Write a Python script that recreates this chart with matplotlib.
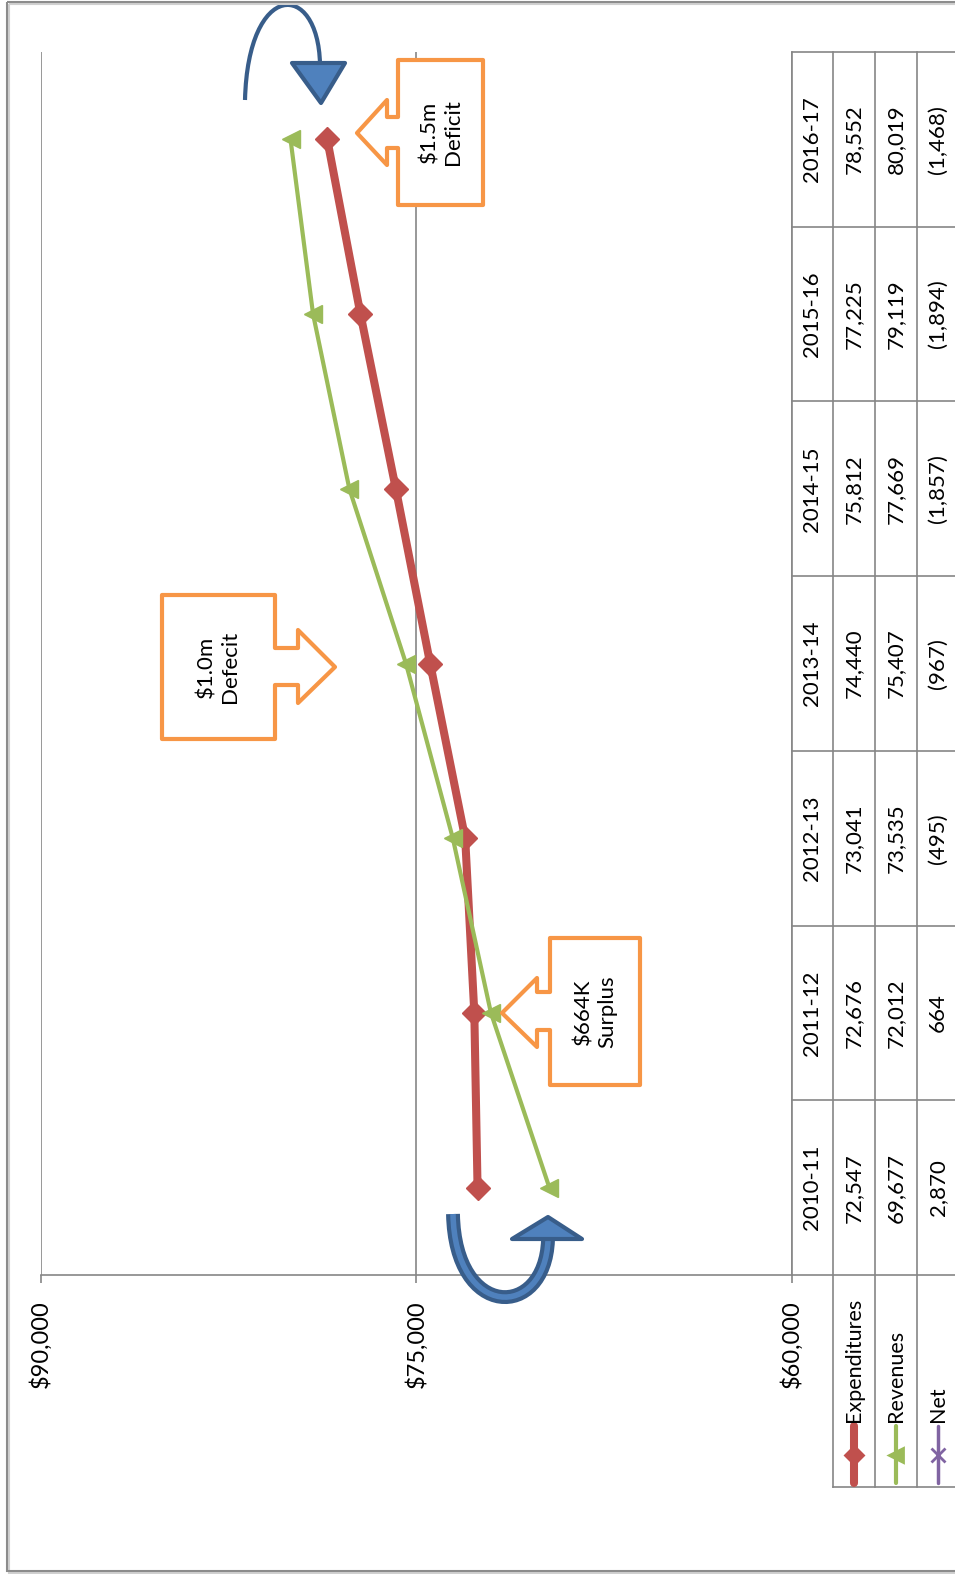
import numpy as np
import matplotlib.pyplot as plt
from matplotlib.patches import Polygon, PathPatch, Rectangle
from matplotlib.path import Path
from matplotlib.lines import Line2D
from matplotlib.transforms import Affine2D, blended_transform_factory

# data (thousands of dollars)
years = ["2010-11", "2011-12", "2012-13", "2013-14", "2014-15", "2015-16", "2016-17"]
expenditures = [72547, 72676, 73041, 74440, 75812, 77225, 78552]
revenues = [69677, 72012, 73535, 75407, 77669, 79119, 80019]
net = [2870, 664, -495, -967, -1857, -1894, -1468]
value_ticks = [90000, 75000, 60000]

RED, GREEN, PURPLE = "#C0504D", "#9BBB59", "#8064A2"
ORANGE, BLUE, DKBLUE = "#F79646", "#4F81BD", "#385D8A"
GRAY = "#868686"

W, H = 955, 1574
plt.rcParams['font.family'] = ['Lato', 'DejaVu Sans']
fig = plt.figure(figsize=(W / 100, H / 100), dpi=100)
# pixel coords, y measured from the top
px = Affine2D().scale(1 / W, -1 / H).translate(0, 1) + fig.transFigure

# the whole chart is turned 90 degrees: values run right->left, years bottom->top
x0, x1, y0, y1 = 40.7, 791.6, 52, 1275
ax = fig.add_axes([x0 / W, 1 - y1 / H, (x1 - x0) / W, (y1 - y0) / H])
idx = np.arange(len(years))
ax.set_xlim(90000, 60000)
ax.set_ylim(-0.5, len(years) - 0.5)

ax.plot(expenditures, idx, color=RED, lw=5.8, marker='D', ms=12, zorder=3)
ax.plot(revenues, idx, color=GREEN, lw=3, marker='<', ms=13, zorder=4)
ax.plot(net, idx, color=PURPLE, lw=2.5, marker='x', ms=10, zorder=2)

for s in ['top', 'left']:
    ax.spines[s].set_visible(False)
for s in ['bottom', 'right']:
    ax.spines[s].set_color(GRAY)
    ax.spines[s].set_linewidth(1.2)
ax.set_xticks(value_ticks)
ax.set_xticklabels([f"${v:,}" for v in value_ticks], rotation=90, fontsize=17)
ax.tick_params(axis='x', direction='out', length=6, width=1.2, color=GRAY, pad=12)
ax.set_yticks([])
ax.grid(axis='x', color=GRAY, lw=1.2)
ax.set_axisbelow(True)

# data table on the right
tb = blended_transform_factory(px, ax.transData)
cols = [812, 854, 896, 938]
for xc in [833, 875, 917]:
    fig.add_artist(Line2D([xc, xc], [52, 1487], color=GRAY, lw=1.2, transform=px))
for k in range(len(years) + 1):
    fig.add_artist(Line2D([792, 960], [k - 0.5, k - 0.5], color=GRAY, lw=1.2, transform=tb))
fig.add_artist(Line2D([833, 960], [1487, 1487], color=GRAY, lw=1.2, transform=px))

fmt = lambda v: f"{v:,}" if v >= 0 else f"({-v:,})"
rows = [years, [fmt(v) for v in expenditures], [fmt(v) for v in revenues], [fmt(v) for v in net]]
for xc, row in zip(cols, rows):
    for i, s in enumerate(row):
        fig.text(xc, i, s, transform=tb, rotation=90, ha='center', va='center', fontsize=16)

# legend keys in the table
keys = [("Expenditures", RED, 5.8, 'D', 12), ("Revenues", GREEN, 3, '<', 13), ("Net", PURPLE, 2.5, 'x', 12)]
for xc, (lab, c, lw, m, ms) in zip(cols[1:], keys):
    fig.add_artist(Line2D([xc, xc], [1426, 1483], color=c, lw=lw, solid_capstyle='round', transform=px))
    fig.add_artist(Line2D([xc], [1455], color=c, marker=m, ms=ms * 0.8, mew=2, transform=px))
    fig.text(xc, 1422, lab, transform=px, rotation=90, ha='center', va='bottom', fontsize=15.5)

# callouts
callouts = [
    ([(398, 60), (483, 60), (483, 205), (398, 205), (398, 148), (387, 148), (387, 165),
      (357, 133), (387, 100), (387, 117), (398, 117)], (441, 132), "$1.5m\nDeficit"),
    ([(162, 595), (275, 595), (275, 648), (298, 648), (298, 630), (335, 667), (298, 703),
      (298, 685), (275, 685), (275, 739), (162, 739)], (218, 667), "$1.0m\nDefecit"),
    ([(550, 938), (640, 938), (640, 1085), (550, 1085), (550, 1030), (537, 1030), (537, 1047),
      (502, 1013), (537, 978), (537, 992), (550, 992)], (595, 1012), "$664K\nSurplus"),
]
for pts, (tx, ty), txt in callouts:
    fig.add_artist(Polygon(pts, closed=True, fc='white', ec=ORANGE, lw=3, joinstyle='round', transform=px))
    fig.text(tx, ty, txt, transform=px, rotation=90, ha='center', va='center', fontsize=16,
             multialignment='center', linespacing=1.25)

# blue curved arrows
C = Path.CURVE4
top = Path([(245, 100), (248, -20), (318, -20), (320, 64)], [Path.MOVETO, C, C, C])
fig.add_artist(PathPatch(top, fc='none', ec=DKBLUE, lw=3, transform=px))
fig.add_artist(Polygon([(292, 63), (345, 63), (321, 103)], fc=BLUE, ec=DKBLUE, lw=3,
                       joinstyle='round', transform=px))
bot = Path([(453, 1214), (455, 1320), (545, 1320), (548, 1240)], [Path.MOVETO, C, C, C])
fig.add_artist(PathPatch(bot, fc='none', ec=DKBLUE, lw=10, transform=px))
fig.add_artist(PathPatch(bot, fc='none', ec=BLUE, lw=4, transform=px))
fig.add_artist(Polygon([(512, 1239), (582, 1239), (548, 1217)], fc=BLUE, ec=DKBLUE, lw=3,
                       joinstyle='round', transform=px))

# chart frame
fig.add_artist(Rectangle((9, 4), 960, 1569, fc='none', ec='#d0d0d0', lw=1.5, transform=px))
fig.add_artist(Rectangle((7, 2), 960, 1569, fc='none', ec='#8c8c8c', lw=1.5, transform=px))

fig.savefig("out.png", dpi=100)
